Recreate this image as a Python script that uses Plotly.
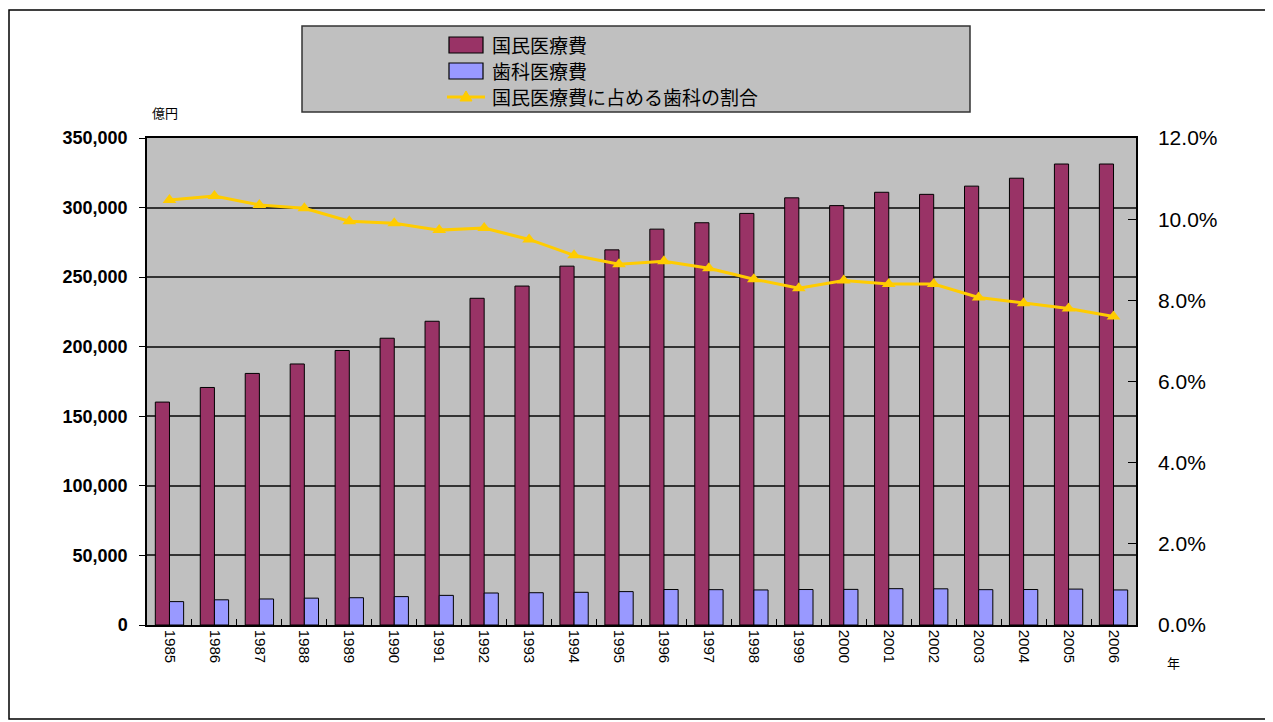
import plotly.graph_objects as go

years = [str(y) for y in range(1985, 2007)]
national = [160200, 170700, 180800, 187600, 197300, 206100, 218300, 234800, 243600,
            257900, 269600, 284500, 289100, 295800, 307000, 301400, 311000, 309500,
            315400, 321100, 331300, 331300]
dental = [16800, 18100, 18700, 19300, 19600, 20400, 21300, 23000, 23200, 23500,
          24000, 25500, 25400, 25200, 25500, 25600, 26100, 26000, 25400, 25500,
          25800, 25200]
ratio = [0.1047, 0.1057, 0.1035, 0.1027, 0.0995, 0.0990, 0.0973, 0.0978, 0.0950,
         0.0911, 0.0889, 0.0896, 0.0879, 0.0852, 0.0830, 0.0849, 0.0840, 0.0840,
         0.0807, 0.0793, 0.0780, 0.0760]

names = ["国民医療費", "歯科医療費", "国民医療費に占める歯科の割合"]
unit_left = "億円"
unit_x = "年"

OFF = 8  # default page body margin
W, H = 1265, 714
# target page coordinates of plot area
L, R, T, B = 147, 1136, 138, 625
PW, PH = R - L, B - T


def px(x):
    return (x - L) / PW


def py(y):
    return (B - y) / PH


JP = "Noto Sans CJK JP"
NUM = "Liberation Sans, Arial, sans-serif"

fig = go.Figure()
fig.add_bar(x=years, y=national, name=names[0],
            marker=dict(color="#993366", line=dict(color="black", width=1)))
fig.add_bar(x=years, y=dental, name=names[1],
            marker=dict(color="#9999FF", line=dict(color="black", width=1)))
fig.add_scatter(x=years, y=ratio, name=names[2], yaxis="y2", mode="lines+markers",
                line=dict(color="#FFCC00", width=3),
                marker=dict(symbol="triangle-up", size=12, color="#FFCC00"))

shapes = []
# outer frame
shapes.append(dict(type="rect", xref="paper", yref="paper",
                   x0=px(9), x1=px(1267), y0=py(10), y1=py(719),
                   line=dict(color="black", width=1.5), fillcolor="rgba(0,0,0,0)", layer="below"))
# legend box
shapes.append(dict(type="rect", xref="paper", yref="paper",
                   x0=px(302), x1=px(970), y0=py(26), y1=py(112),
                   line=dict(color="#333333", width=1.5), fillcolor="#C0C0C0"))
rows = [45, 71, 97]
shapes.append(dict(type="rect", xref="paper", yref="paper",
                   x0=px(449), x1=px(483), y0=py(rows[0] - 8), y1=py(rows[0] + 8),
                   line=dict(color="black", width=1.2), fillcolor="#993366"))
shapes.append(dict(type="rect", xref="paper", yref="paper",
                   x0=px(449), x1=px(483), y0=py(rows[1] - 8), y1=py(rows[1] + 8),
                   line=dict(color="black", width=1.2), fillcolor="#9999FF"))
shapes.append(dict(type="line", xref="paper", yref="paper",
                   x0=px(447), x1=px(485), y0=py(rows[2]), y1=py(rows[2]),
                   line=dict(color="#FFCC00", width=3)))
cx = 466
tri = "M {:.5f},{:.5f} L {:.5f},{:.5f} L {:.5f},{:.5f} Z".format(
    px(cx), py(rows[2] - 6), px(cx - 6), py(rows[2] + 4), px(cx + 6), py(rows[2] + 4))
shapes.append(dict(type="path", xref="paper", yref="paper", path=tri,
                   line=dict(color="#FFCC00", width=1), fillcolor="#FFCC00"))

annotations = []
for i, nm in enumerate(names):
    annotations.append(dict(text=nm, xref="paper", yref="paper", x=px(490), y=py(rows[i]),
                            xanchor="left", yanchor="middle", showarrow=False,
                            font=dict(family=JP, size=19, color="black")))
annotations.append(dict(text=unit_left, xref="paper", yref="paper", x=px(165), y=py(113),
                        xanchor="center", yanchor="middle", showarrow=False,
                        font=dict(family=JP, size=13, color="black")))
annotations.append(dict(text=unit_x, xref="paper", yref="paper", x=px(1173), y=py(662),
                        xanchor="center", yanchor="middle", showarrow=False,
                        font=dict(family=JP, size=13, color="black")))

fig.update_layout(
    width=W, height=H,
    margin=dict(l=L - OFF, r=W - (R - OFF), t=T - OFF, b=H - (B - OFF), pad=0),
    paper_bgcolor="white", plot_bgcolor="#C0C0C0",
    barmode="group", bargap=0.37, bargroupgap=0,
    showlegend=False,
    shapes=shapes, annotations=annotations,
    xaxis=dict(type="category", range=[-0.5, len(years) - 0.5], autorange=False,
               tickangle=90, showline=True, linecolor="black", linewidth=1.5,
               mirror=True, ticks="inside", tickson="boundaries", ticklen=6, tickcolor="black",
               showgrid=False, tickfont=dict(family=NUM, size=15, color="black")),
    yaxis=dict(range=[0, 350000], dtick=50000, tickformat=",d", showgrid=True,
               gridcolor="#333333", gridwidth=1.8, zeroline=False, showline=True,
               linecolor="black", linewidth=1.5, ticks="outside", ticklen=6, tickcolor="black",
               ticklabelstandoff=8,
               tickfont=dict(family=NUM, size=18, color="black", weight="bold")),
    yaxis2=dict(range=[0, 0.12], dtick=0.02, tickformat=".1%", overlaying="y", side="right",
                showgrid=False, zeroline=False, showline=True, linecolor="black", linewidth=1.5,
                ticks="inside", ticklen=8, tickcolor="black", ticklabelstandoff=16,
                tickfont=dict(family=NUM, size=21, color="black")),
)

fig.write_html("out.html")
